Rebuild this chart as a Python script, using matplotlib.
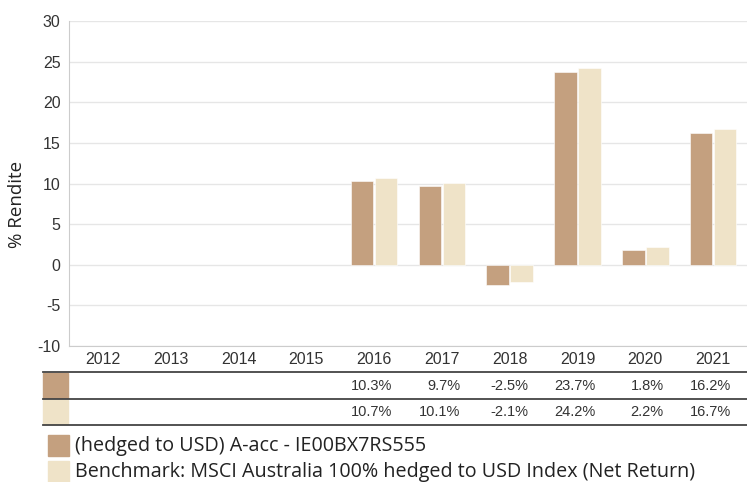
import matplotlib
matplotlib.use('Agg')
import matplotlib.pyplot as plt
import matplotlib.patches as patches
import matplotlib.transforms as transforms
import numpy as np

# Data
years = ['2012', '2013', '2014', '2015', '2016', '2017', '2018', '2019', '2020', '2021']
fund = [np.nan, np.nan, np.nan, np.nan, 10.3, 9.7, -2.5, 23.7, 1.8, 16.2]
bench = [np.nan, np.nan, np.nan, np.nan, 10.7, 10.1, -2.1, 24.2, 2.2, 16.7]
fund_label = '(hedged to USD) A-acc - IE00BX7RS555'
bench_label = 'Benchmark: MSCI Australia 100% hedged to USD Index (Net Return)'
y_ticks = [-10, -5, 0, 5, 10, 15, 20, 25, 30]

fund_color = '#c4a07f'
bench_color = '#efe3c8'

W, H = 747, 482
fig = plt.figure(figsize=(W / 100, H / 100), dpi=100)
ax = fig.add_axes([69 / W, 1 - 346 / H, (W - 69) / W, (346 - 21) / H])

x = np.arange(len(years))
bw = 0.335
ax.bar(x - bw / 2 - 0.01, fund, bw, color=fund_color, edgecolor='white', linewidth=0.4, zorder=3)
ax.bar(x + bw / 2 + 0.01, bench, bw, color=bench_color, edgecolor='white', linewidth=0.4, zorder=3)

ax.set_xlim(-0.5, len(years) - 0.5)
ax.set_ylim(-10, 30)
ax.set_yticks(y_ticks)
ax.set_yticklabels([str(v) for v in y_ticks], fontfamily='Liberation Sans', fontsize=11.5, color='#333333')
ax.set_xticks(x)
ax.set_xticklabels(years, fontfamily='Liberation Sans', fontsize=11.5, color='#333333')
ax.tick_params(axis='y', length=0, pad=6)
ax.tick_params(axis='x', length=0, pad=4)
ax.grid(axis='y', color='#e6e6e6', linewidth=1, zorder=0)
for s in ['top', 'right']:
    ax.spines[s].set_visible(False)
ax.spines['left'].set_color('#cccccc')
ax.spines['bottom'].set_color('#cccccc')
ax.set_ylabel('% Rendite', fontfamily='Open Sans', fontsize=13.5, color='#222222')
ax.yaxis.set_label_coords(-43 / (W - 69), (346 - 204) / (346 - 21))

# Table under the chart
def fy(py):
    return 1 - py / H

trans = transforms.blended_transform_factory(ax.transData, fig.transFigure)
row_lines = [372, 399, 425]
for py in row_lines:
    fig.add_artist(plt.Line2D([43 / W, 1], [fy(py), fy(py)], color='#444444', linewidth=1.3))

for row, (vals, col) in enumerate([(fund, fund_color), (bench, bench_color)]):
    top, bot = row_lines[row], row_lines[row + 1]
    fig.add_artist(patches.Rectangle((43 / W, fy(bot - 1)), 25 / W, (bot - top - 2) / H,
                                     transform=fig.transFigure, color=col))
    ymid = fy((top + bot) / 2)
    for xi, v in zip(x, vals):
        if np.isnan(v):
            continue
        fig.text(xi + 0.27, ymid, f'{v:.1f}%', transform=trans, ha='right', va='center',
                 fontfamily='Liberation Sans', fontsize=10.5, color='#333333')

# Legend
for i, (lab, col) in enumerate([(fund_label, fund_color), (bench_label, bench_color)]):
    top = 435 + i * 26
    fig.add_artist(patches.Rectangle((48 / W, fy(top + 21)), 21 / W, 21 / H,
                                     transform=fig.transFigure, color=col))
    fig.text(75 / W, fy(top + 10.5), lab, ha='left', va='center',
             fontfamily='Open Sans', fontsize=14.2, color='#222222')

fig.savefig('out.png', dpi=100)
